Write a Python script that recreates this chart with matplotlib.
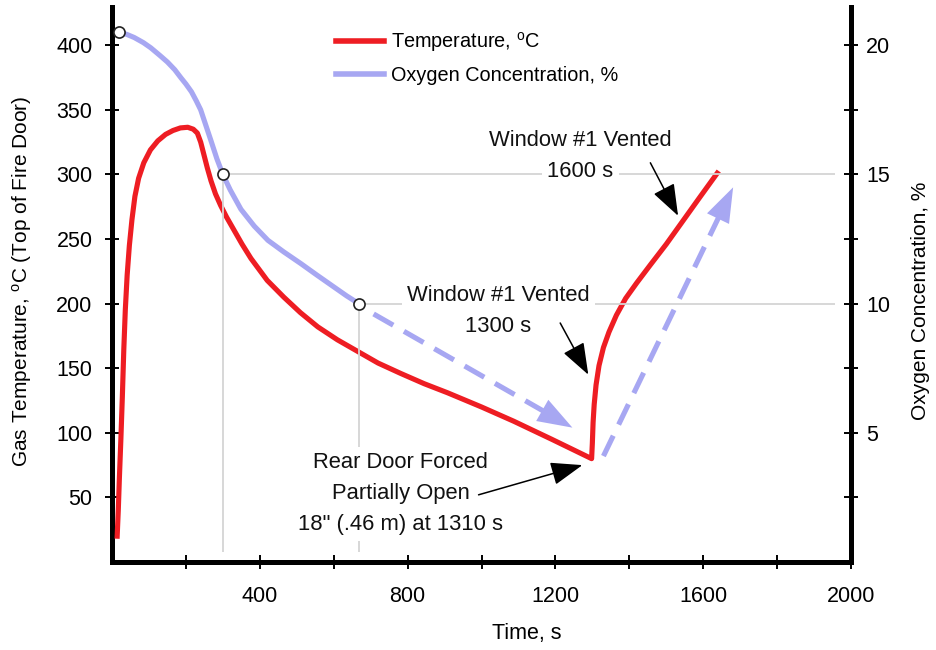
import matplotlib
matplotlib.use("Agg")
import matplotlib.pyplot as plt
from matplotlib.lines import Line2D
import numpy as np

plt.rcParams['font.family'] = ['Liberation Sans', 'DejaVu Sans']
plt.rcParams['mathtext.fontset'] = 'custom'
plt.rcParams['mathtext.rm'] = 'Liberation Sans'
plt.rcParams['mathtext.it'] = 'Liberation Sans:italic'

# ---------------- data ----------------
temp_time = [14, 17, 20, 24, 28, 32, 36, 41, 47, 54, 62, 72, 86, 104, 124, 145, 165, 185,
             205, 220, 231, 240, 249, 258, 268, 280, 294, 310, 330, 352, 376, 420, 465, 510,
             557, 610, 665, 720, 781, 845, 908, 1000, 1087, 1190, 1298,
             1300, 1302, 1305, 1310, 1318, 1330, 1345, 1365, 1390, 1420, 1457, 1500,
             1540, 1590, 1638]
temp_vals = [20, 40, 65, 95, 128, 165, 195, 222, 245, 265, 283, 297, 309, 319, 326, 331, 334, 336,
             336.5, 335, 332, 325, 315, 305, 295, 285, 276, 267, 257, 246, 235, 218, 205, 193,
             182, 172, 163, 154, 146, 138, 131, 120, 109, 95, 80,
             92, 108, 122, 137, 152, 166, 178, 191, 204, 216, 230, 246,
             262, 282, 301]

o2_time = [19, 40, 60, 85, 105, 130, 150, 170, 186, 200, 215, 228, 240, 254, 268, 284, 300,
           320, 349, 385, 422, 465, 511, 555, 600, 635, 668]
o2_vals = [20.5, 20.42, 20.3, 20.1, 19.9, 19.6, 19.35, 19.05, 18.75, 18.5, 18.2, 17.85, 17.5,
           16.9, 16.3, 15.6, 15.0, 14.4, 13.65, 13.0, 12.45, 12.0, 11.55, 11.1, 10.65, 10.3, 10.0]

marker_time = [19, 300, 668]
marker_o2 = [20.5, 15.0, 10.0]

o2_trend1_time = [708, 1246]
o2_trend1_vals = [9.6, 5.2]
o2_trend2_time = [1330, 1681]
o2_trend2_vals = [4.1, 14.5]

x_major = [400, 800, 1200, 1600, 2000]
x_minor = [200, 600, 1000, 1400, 1800]
temp_ticks = [50, 100, 150, 200, 250, 300, 350, 400]
o2_major = [5, 10, 15, 20]
o2_minor = [2.5, 7.5, 12.5, 17.5]

notes = [
    # (lines, text x, text y (temp), arrow tail (t, T), arrow tip (t, T))
    (["Window #1 Vented", "1600 s"], 1268, 314, (1457, 309), (1532, 268)),
    (["Window #1 Vented", "1300 s"], 1046, 194, (1213, 185), (1289, 145)),
    (["Rear Door Forced", "Partially Open", '18" (.46 m) at 1310 s'], 781, 53, (992, 52), (1273, 75)),
]

RED = '#EE1D23'
BLUE = '#A7A7F2'
GRID = '#D4D4D4'

# ---------------- figure ----------------
W, H = 936, 650
fig = plt.figure(figsize=(W / 100, H / 100), dpi=100)
ax = fig.add_axes([112 / W, 1 - 562 / H, (851 - 112) / W, (562 - 7) / H])
ax2 = ax.twinx()

ax.set_xlim(0, 2000)
ax.set_ylim(0, 429.6)
ax2.set_ylim(0, 429.6 / 20)

# reference lines from markers
ax2.hlines(marker_o2[1:], marker_time[1:], 1957, color=GRID, lw=1.3, zorder=1)
ax2.vlines(marker_time[1:], 0.4, marker_o2[1:], color=GRID, lw=1.3, zorder=1)

# temperature
ax.plot(temp_time, temp_vals, color=RED, lw=3.7, solid_joinstyle='round', zorder=3)

# oxygen
ax2.plot(o2_time, o2_vals, color=BLUE, lw=3.7, solid_capstyle='round',
         solid_joinstyle='round', zorder=3)
ax2.plot(marker_time, marker_o2, 'o', ms=8, mfc='white', mec='#222222', mew=1.2, zorder=6)

# dashed trend arrows
HEAD_LEN_PT = 25
HEAD_HALF_W_PT = 8.8
for tt, vv in [(o2_trend1_time, o2_trend1_vals), (o2_trend2_time, o2_trend2_vals)]:
    p0 = ax2.transData.transform((tt[0], vv[0]))
    p1 = ax2.transData.transform((tt[1], vv[1]))
    u = (p1 - p0) / np.hypot(*(p1 - p0))
    base = p1 - u * HEAD_LEN_PT * 100 / 72 * 0.85
    bx, by = ax2.transData.inverted().transform(base)
    ax2.plot([tt[0], bx], [vv[0], by], color=BLUE, lw=3.7, dashes=(4.4, 2.4),
             solid_capstyle='butt', dash_capstyle='butt', zorder=4)
    ax2.annotate('', xy=(tt[1], vv[1]), xytext=(tt[0], vv[0]),
                 arrowprops=dict(arrowstyle='-|>,head_length=%g,head_width=%g'
                                 % (HEAD_LEN_PT / 20, HEAD_HALF_W_PT / 20),
                                 mutation_scale=20, lw=0, color=BLUE,
                                 shrinkA=0, shrinkB=0),
                 zorder=4)

# annotations
FS = 15.8
line_h = 31 / 1.292  # vertical distance between text lines, in temperature units
for lines, tx, ty, tail, tip in notes:
    n = len(lines)
    for i, s in enumerate(lines):
        yy = ty + ((n - 1) / 2 - i) * line_h
        ax2.text(tx, yy, s, ha='center', va='center', fontsize=FS, color='#111111', zorder=7,
                 transform=ax.transData,
                 bbox=dict(boxstyle='square,pad=0.25', fc='white', ec='none'))
    ax2.annotate('', xy=tip, xytext=tail, xycoords=ax.transData, textcoords=ax.transData,
                 arrowprops=dict(arrowstyle='-|>,head_length=0.6,head_width=0.22',
                                 mutation_scale=33, lw=1.1, color='black',
                                 shrinkA=0, shrinkB=0), zorder=8)

# ticks / spines
for a in (ax, ax2):
    a.spines['top'].set_visible(False)
ax.spines['right'].set_visible(False)
ax2.spines['left'].set_visible(False)
ax2.spines['bottom'].set_visible(False)
for s in ('left', 'bottom'):
    ax.spines[s].set_linewidth(3.6)
ax2.spines['right'].set_linewidth(3.6)

ax.set_xticks(x_major)
ax.set_xticks(x_minor, minor=True)
ax.set_yticks(temp_ticks)
ax2.set_yticks(o2_major)
ax2.set_yticks(o2_minor, minor=True)
ax2.set_yticklabels([str(v) for v in o2_major])

ax.tick_params(axis='x', which='both', direction='inout', length=10, width=1.4, labelsize=15.5, pad=12)
ax.tick_params(axis='y', which='both', direction='inout', length=10, width=1.4, labelsize=15.5, pad=9)
ax2.tick_params(axis='y', which='both', direction='inout', length=10, width=1.4, labelsize=15.5, pad=6)

fig.text(527 / W, 1 - 634 / H, 'Time, s', ha='center', va='center', fontsize=15.5)
fig.text(22 / W, 1 - 281 / H, r'Gas Temperature, $^{\rm o}$C (Top of Fire Door)',
         ha='center', va='center', rotation=90, fontsize=15)
fig.text(921 / W, 1 - 301 / H, 'Oxygen Concentration, %',
         ha='center', va='center', rotation=90, fontsize=15)

handles = [Line2D([], [], color=RED, lw=4), Line2D([], [], color=BLUE, lw=4)]
labels = [r'Temperature, $^{\rm o}$C', 'Oxygen Concentration, %']
leg = ax2.legend(handles, labels, loc='upper left', bbox_to_anchor=(336 / W, 1 - 30 / H),
                 bbox_transform=fig.transFigure, frameon=False, fontsize=14.3,
                 handlelength=2.4, handletextpad=0.35, labelspacing=0.62,
                 borderpad=0, borderaxespad=0)

fig.savefig('out.png', dpi=100)
